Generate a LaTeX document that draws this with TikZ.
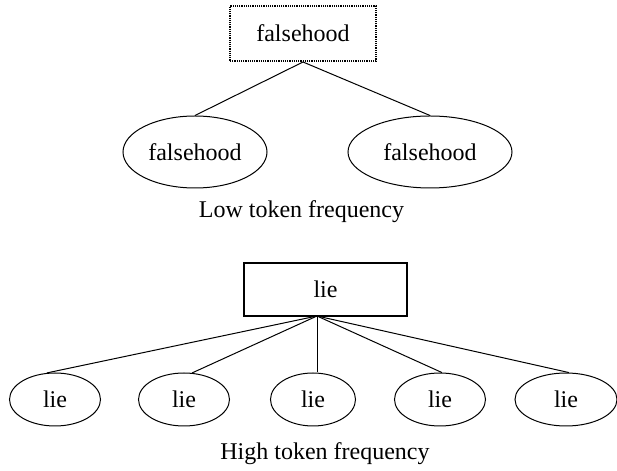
\documentclass[tikz,border=0pt]{standalone}
\usepackage{fontspec}
\setmainfont{Liberation Serif}
\usepackage{tikz}
\usepackage{xcolor}
\usetikzlibrary{positioning, calc, shapes.geometric}

\begin{document}
\begin{tikzpicture}[
    every node/.style={font=\fontsize{12pt}{14pt}\selectfont},
    schema/.style={
        rectangle,
        draw,
        line width=0.7pt,
        minimum width=73pt,
        minimum height=27.5pt,
        inner sep=0pt
    },
    token/.style={
        ellipse,
        draw,
        line width=0.5pt,
        minimum width=45.5pt,
        minimum height=26.5pt,
        inner sep=0pt
    },
    link/.style={
        line width=0.5pt
    }
]
\useasboundingbox (0,0) rectangle (308.5pt,235.5pt);

% Low token frequency
\node[schema, dash pattern=on 0.6pt off 0.5pt, line width=1pt] (falsehood) at (151.5pt,218.75pt) {falsehood};
\node[token, minimum width=72pt, minimum height=36pt] (fa) at (97.5pt,159.5pt) {falsehood};
\node[token, minimum width=82pt, minimum height=36pt] (fb) at (215pt,159.5pt) {falsehood};
\node[anchor=base] (low) at (150.75pt,126.5pt) {Low token frequency};

\draw[link] (falsehood.south) -- (fa.north);
\draw[link] (falsehood.south) -- (fb.north);

% High token frequency
\node[schema, minimum width=81.5pt, minimum height=26.5pt] (lie) at (162.75pt,90.75pt) {lie};
\coordinate (hub) at (158.5pt,77.5pt);

\node[token] (la) at (27.5pt,35.75pt) {lie};
\node[token] (lb) at (92pt,35.75pt) {lie};
\node[token, minimum width=42.5pt] (lc) at (156.5pt,35.75pt) {lie};
\node[token] (ld) at (220pt,35.75pt) {lie};
\node[token, minimum width=51pt] (le) at (283pt,35.75pt) {lie};
\node[anchor=base] (high) at (162.5pt,5.5pt) {High token frequency};

\draw[link] (hub) -- (la.107);
\draw[link] (hub) -- (lb.73);
\draw[link] (hub) -- (hub |- lc.north);
\draw[link] (hub) -- (ld.86);
\draw[link] (hub) -- (le.84);

\end{tikzpicture}
\end{document}
